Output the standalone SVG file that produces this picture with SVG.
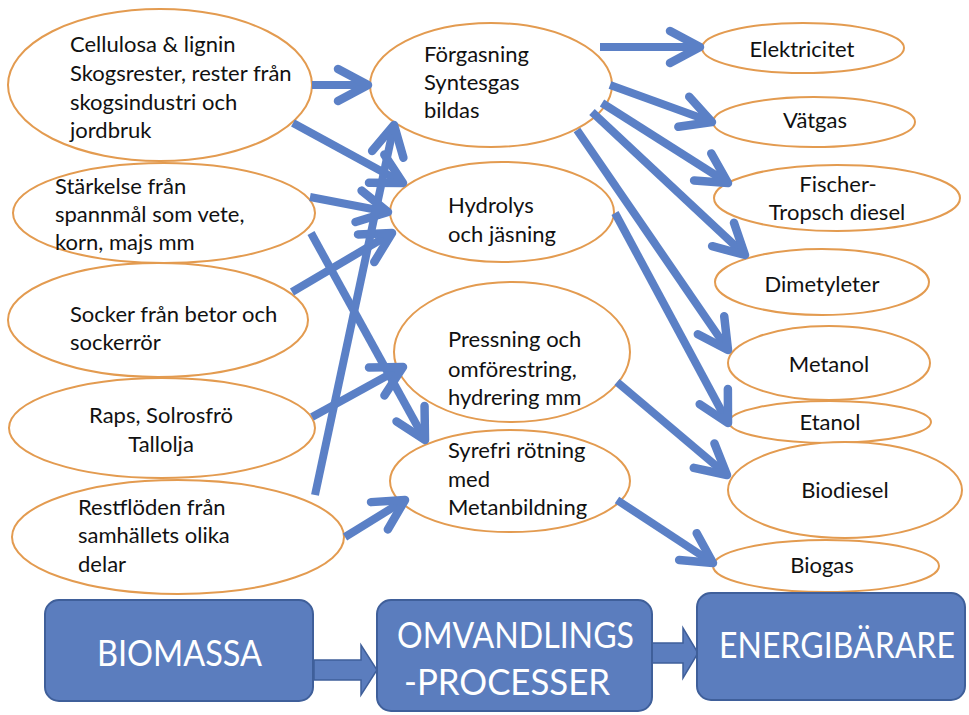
<svg xmlns="http://www.w3.org/2000/svg" width="969" height="715" viewBox="0 0 969 715">
<style>
.n ellipse{fill:#fff;stroke:#E39B50;stroke-width:2}
.t{font-family:Lato,"Open Sans","Liberation Sans",sans-serif;font-size:22px;fill:#111}
.c{text-anchor:middle}
.edges line{stroke:#5B80C6;stroke-width:8;marker-end:url(#ah)}
.box rect{fill:#5B7DBE;stroke:#3F5F9A;stroke-width:2}
.bt{font-family:Lato,"Open Sans","Liberation Sans",sans-serif;font-size:36px;fill:#fff}
.ba{fill:#5B7DBE;stroke:#3F5F9A;stroke-width:1.5}
</style>
<defs>
<marker id="ah" markerUnits="userSpaceOnUse" viewBox="-40 -25 50 50" refX="0" refY="0" markerWidth="50" markerHeight="50" orient="auto" overflow="visible">
<path d="M-30,-16 L0,0 L-30,16" fill="none" stroke="#5B80C6" stroke-width="8.5" stroke-linecap="round" stroke-linejoin="round"/>
</marker>
</defs>
<rect width="969" height="715" fill="#fff"/>

<g id="cellulosa" class="n"><ellipse cx="160" cy="85" rx="152" ry="76"/>
<text class="t"><tspan x="70" y="52">Cellulosa &amp; lignin</tspan><tspan x="70" y="81">Skogsrester, rester från</tspan><tspan x="70" y="110">skogsindustri och</tspan><tspan x="70" y="138">jordbruk</tspan></text></g>
<g id="starkelse" class="n"><ellipse cx="164" cy="213" rx="151" ry="50"/>
<text class="t"><tspan x="55" y="194">Stärkelse från</tspan><tspan x="55" y="222">spannmål som vete,</tspan><tspan x="55" y="250">korn, majs mm</tspan></text></g>
<g id="socker" class="n"><ellipse cx="158" cy="320" rx="150" ry="57"/>
<text class="t"><tspan x="70" y="322">Socker från betor och</tspan><tspan x="70" y="350">sockerrör</tspan></text></g>
<g id="raps" class="n"><ellipse cx="162" cy="428" rx="153" ry="50"/>
<text class="t c"><tspan x="161" y="423">Raps, Solrosfrö</tspan><tspan x="161" y="452">Tallolja</tspan></text></g>
<g id="restfloden" class="n"><ellipse cx="178" cy="537" rx="166" ry="57"/>
<text class="t"><tspan x="78" y="515">Restflöden från</tspan><tspan x="78" y="543">samhällets olika</tspan><tspan x="78" y="572">delar</tspan></text></g>

<g id="forgasning" class="n"><ellipse cx="491" cy="85" rx="121" ry="62"/>
<text class="t"><tspan x="424" y="62">Förgasning</tspan><tspan x="424" y="90">Syntesgas</tspan><tspan x="424" y="118">bildas</tspan></text></g>
<g id="hydrolys" class="n"><ellipse cx="502" cy="212" rx="112" ry="50"/>
<text class="t"><tspan x="448" y="213">Hydrolys</tspan><tspan x="448" y="242">och jäsning</tspan></text></g>
<g id="pressning" class="n"><ellipse cx="512" cy="352" rx="118" ry="70"/>
<text class="t"><tspan x="448" y="347">Pressning och</tspan><tspan x="448" y="377">omförestring,</tspan><tspan x="448" y="405">hydrering mm</tspan></text></g>
<g id="syrefri" class="n"><ellipse cx="510" cy="481" rx="120" ry="51"/>
<text class="t"><tspan x="448" y="458">Syrefri rötning</tspan><tspan x="448" y="487">med</tspan><tspan x="448" y="515">Metanbildning</tspan></text></g>

<g id="elektricitet" class="n"><ellipse cx="803" cy="48" rx="101" ry="25"/><text class="t c" x="802" y="57">Elektricitet</text></g>
<g id="vatgas" class="n"><ellipse cx="814" cy="122" rx="101" ry="25"/><text class="t c" x="815" y="128">Vätgas</text></g>
<g id="fischer" class="n"><ellipse cx="837" cy="198" rx="123" ry="33"/><text class="t c"><tspan x="838" y="192">Fischer-</tspan><tspan x="837" y="220">Tropsch diesel</tspan></text></g>
<g id="dimetyleter" class="n"><ellipse cx="822" cy="282" rx="107" ry="33"/><text class="t c" x="822" y="292">Dimetyleter</text></g>
<g id="metanol" class="n"><ellipse cx="829" cy="363" rx="101" ry="37"/><text class="t c" x="829" y="372">Metanol</text></g>
<g id="etanol" class="n"><ellipse cx="830" cy="422" rx="101" ry="21"/><text class="t c" x="830" y="430">Etanol</text></g>
<g id="biodiesel" class="n"><ellipse cx="845" cy="490" rx="117" ry="48"/><text class="t c" x="845" y="498">Biodiesel</text></g>
<g id="biogas" class="n"><ellipse cx="826" cy="566" rx="113" ry="26"/><text class="t c" x="822" y="573">Biogas</text></g>

<g id="connectors" class="edges">
<line x1="312" y1="85" x2="368" y2="85"/>
<line x1="293" y1="123" x2="403" y2="183"/>
<line x1="310" y1="197" x2="388" y2="212"/>
<line x1="311" y1="233" x2="425" y2="440"/>
<line x1="292" y1="292" x2="392" y2="233"/>
<line x1="315" y1="495" x2="394" y2="125"/>
<line x1="312" y1="417" x2="403" y2="367"/>
<line x1="345" y1="537" x2="405" y2="500"/>
<line x1="600" y1="47" x2="700" y2="47"/>
<line x1="610" y1="85" x2="712" y2="122"/>
<line x1="602" y1="103" x2="728" y2="183"/>
<line x1="592" y1="112" x2="745" y2="255"/>
<line x1="577" y1="130" x2="728" y2="350"/>
<line x1="615" y1="213" x2="728" y2="423"/>
<line x1="617" y1="382" x2="727" y2="475"/>
<line x1="617" y1="500" x2="713" y2="563"/>
</g>

<g id="flow">
<polygon class="ba" points="314,660 361,660 361,645 377,670 361,695 361,680 314,680"/>
<polygon class="ba" points="651,643 683,643 683,628 698,653 683,678 683,663 651,663"/>
</g>
<g id="biomassa" class="box"><rect x="45" y="600" width="268" height="101" rx="14"/><text class="bt" x="97" y="666" textLength="165" lengthAdjust="spacingAndGlyphs">BIOMASSA</text></g>
<g id="omvandlings" class="box"><rect x="377" y="600" width="275" height="111" rx="14"/><text class="bt"><tspan x="397" y="648" textLength="237" lengthAdjust="spacingAndGlyphs">OMVANDLINGS</tspan><tspan x="404" y="695" textLength="206" lengthAdjust="spacingAndGlyphs">-PROCESSER</tspan></text></g>
<g id="energibarare" class="box"><rect x="697" y="593" width="268" height="107" rx="14"/><text class="bt" style="font-size:32px;text-anchor:middle" transform="translate(837,658) scale(1,1.12)" x="0" y="0">ENERGIBÄRARE</text></g>
</svg>
